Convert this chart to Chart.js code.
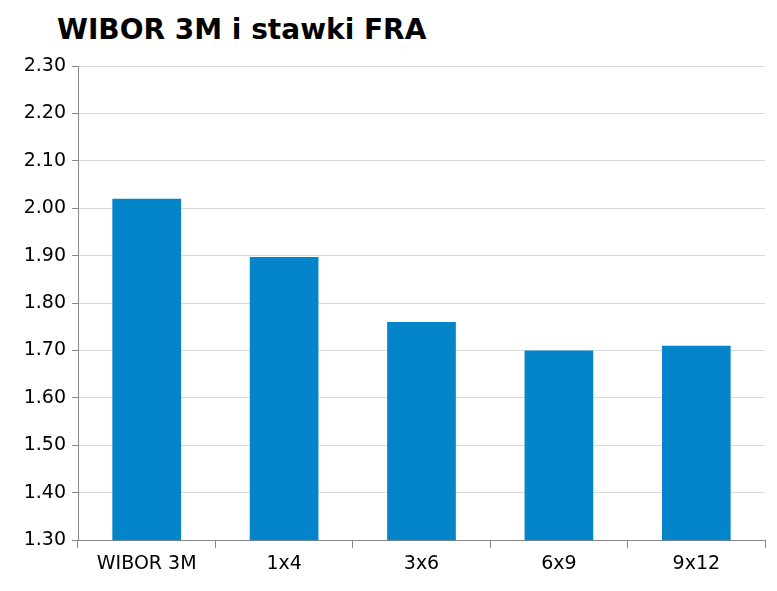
<!DOCTYPE html>
<html><head><meta charset="utf-8">
<script src="https://cdn.jsdelivr.net/npm/chart.js@4/dist/chart.umd.min.js"></script>
<style>
html,body{margin:0;padding:0;background:#fff;}
#wrap{position:relative;width:777px;height:591px;}
#title{position:absolute;left:57px;top:13px;font:bold 28px "DejaVu Sans",Verdana,sans-serif;color:#000;}
canvas{position:absolute;left:0;top:0;}
</style></head>
<body><div id="wrap"><div id="title">WIBOR 3M i stawki FRA</div><canvas id="c" width="777" height="591"></canvas></div>
<script>
const categories = ["WIBOR 3M","1x4","3x6","6x9","9x12"];
const values = [2.02, 1.897, 1.76, 1.70, 1.71];
const yMin = 1.30, yMax = 2.30, yStep = 0.10;

new Chart(document.getElementById('c'), {
  type: 'bar',
  data: { labels: categories, datasets: [{ data: values, backgroundColor: '#0485C9', barPercentage: 0.5, categoryPercentage: 1.0 }] },
  options: {
    responsive: false, animation: false,
    layout: { padding: { left: 2, right: 12, top: 66, bottom: 12 } },
    plugins: { legend: { display: false }, tooltip: { enabled: false } },
    scales: {
      y: { min: yMin, max: yMax,
        afterFit: s => { s.width = 76; },
        ticks: { stepSize: yStep, color: '#000', font: { family: 'DejaVu Sans', size: 19 }, callback: v => v.toFixed(2), padding: 6 },
        grid: { color: '#d9d9d9', tickLength: 6, tickColor: '#888' },
        border: { color: '#888' } },
      x: { offset: true,
        ticks: { color: '#000', font: { family: 'DejaVu Sans', size: 19 }, padding: 4 },
        grid: { offset: true, drawOnChartArea: false, tickLength: 8, color: '#888' },
        border: { color: '#888' } }
    }
  }
});
</script></body></html>
